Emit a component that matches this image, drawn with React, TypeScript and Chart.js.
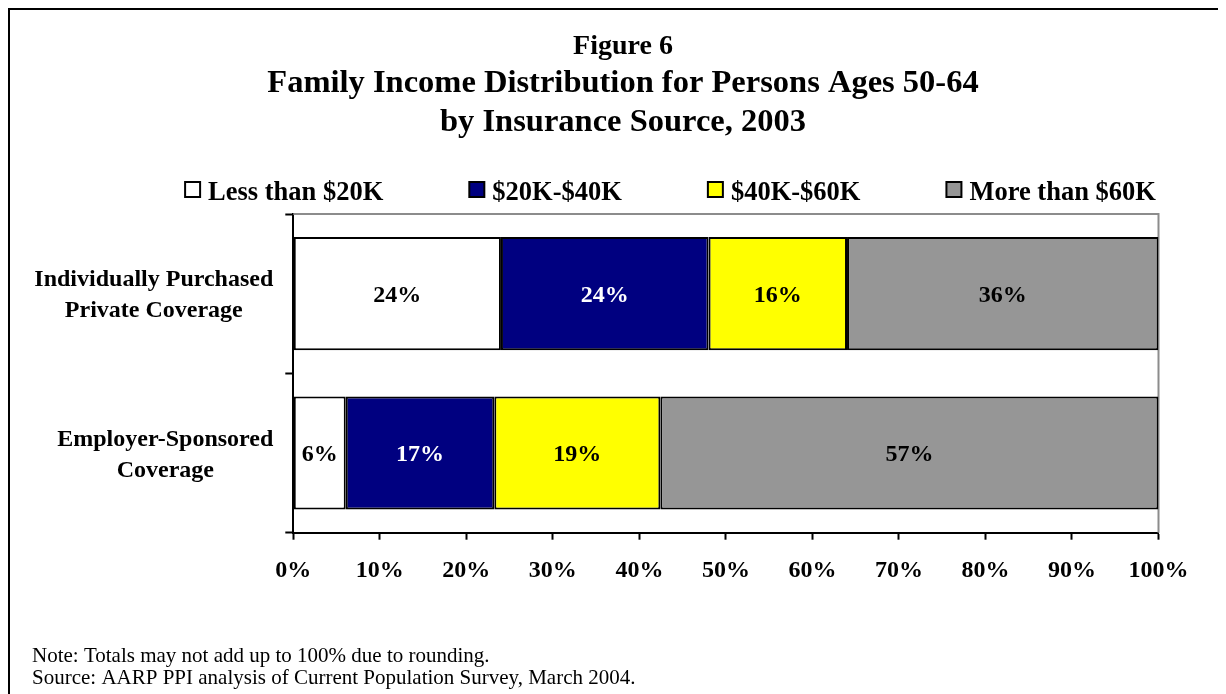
import React, { useEffect, useRef } from "react";
import { Chart, registerables } from "chart.js";

Chart.register(...registerables);

// ---------- data ----------
const categories: string[][] = [
  ["Individually Purchased", "Private Coverage"],
  ["Employer-Sponsored", "Coverage"],
];
const seriesNames = ["Less than $20K", "$20K-$40K", "$40K-$60K", "More than $60K"];
const lessThan20K = [24, 6];
const from20Kto40K = [24, 17];
const from40Kto60K = [16, 19];
const moreThan60K = [36, 57];
const xTickValues = [0, 10, 20, 30, 40, 50, 60, 70, 80, 90, 100];

const figureLabel = "Figure 6";
const titleLines = [
  "Family Income Distribution for Persons Ages 50-64",
  "by Insurance Source, 2003",
];
const noteLines = [
  "Note: Totals may not add up to 100% due to rounding.",
  "Source: AARP PPI analysis of Current Population Survey, March 2004.",
];

// ---------- styles ----------
const FONT = "'Liberation Serif', 'Times New Roman', Times, serif";
const seriesColors = ["#FFFFFF", "#000080", "#FFFF00", "#969696"];
const labelColors = ["#000000", "#FFFFFF", "#000000", "#000000"];

const CANVAS_W = 1216;
const CANVAS_H = 684;

const rawSeries = [lessThan20K, from20Kto40K, from40Kto60K, moreThan60K];
// 100% stacked: each category normalised by its total
const totals = categories.map((_, i) => rawSeries.reduce((s, arr) => s + arr[i], 0));
const shareSeries = rawSeries.map((arr) => arr.map((v, i) => (v / totals[i]) * 100));

const decorPlugin = {
  id: "decor",
  beforeDatasetsDraw(chart: any) {
    const { ctx, chartArea: a } = chart;
    ctx.save();
    ctx.strokeStyle = "#8c8c8c";
    ctx.lineWidth = 2;
    ctx.beginPath();
    ctx.moveTo(a.left, a.top);
    ctx.lineTo(a.right, a.top);
    ctx.lineTo(a.right, a.bottom);
    ctx.stroke();
    ctx.restore();
  },
  afterDatasetsDraw(chart: any) {
    const { ctx } = chart;
    ctx.save();
    ctx.font = `bold 24px ${FONT}`;
    ctx.textAlign = "center";
    ctx.textBaseline = "alphabetic";
    chart.data.datasets.forEach((ds: any, di: number) => {
      const meta = chart.getDatasetMeta(di);
      meta.data.forEach((el: any, i: number) => {
        const cx = (el.x + el.base) / 2;
        ctx.fillStyle = labelColors[di];
        ctx.fillText(`${rawSeries[di][i]}%`, cx, el.y + 8);
      });
    });
    ctx.restore();
  },
  afterDraw(chart: any) {
    const { ctx, chartArea: a } = chart;
    ctx.save();
    ctx.fillStyle = "#000";
    // title
    ctx.textAlign = "center";
    ctx.textBaseline = "alphabetic";
    const tcx = 613;
    ctx.font = `bold 28px ${FONT}`;
    ctx.fillText(figureLabel, tcx, 44);
    ctx.font = `bold 32.5px ${FONT}`;
    ctx.fillText(titleLines[0], tcx, 82);
    ctx.fillText(titleLines[1], tcx, 121);

    // legend
    ctx.font = `bold 26.5px ${FONT}`;
    ctx.textAlign = "left";
    const box = 17;
    const boxGap = 24;
    const gap = 85;
    const widths = seriesNames.map((n) => boxGap + ctx.measureText(n).width);
    const total = widths.reduce((s, w) => s + w, 0) + gap * (seriesNames.length - 1);
    let x = 660 - total / 2;
    const boxTop = 171;
    seriesNames.forEach((n, i) => {
      ctx.fillStyle = seriesColors[i];
      ctx.fillRect(x + 1, boxTop + 1, box - 2, box - 2);
      ctx.strokeStyle = "#000";
      ctx.lineWidth = 2;
      ctx.strokeRect(x + 1, boxTop + 1, box - 2, box - 2);
      ctx.fillStyle = "#000";
      ctx.fillText(n, x + boxGap, 190);
      x += widths[i] + gap;
    });

    // category labels
    ctx.font = `bold 24px ${FONT}`;
    ctx.textAlign = "center";
    const yScale = chart.scales.y;
    const right = a.left - 20;
    categories.forEach((lines, i) => {
      const cy = yScale.getPixelForValue(i);
      const widest = Math.max(...lines.map((l) => ctx.measureText(l).width));
      const cx = right - widest / 2;
      lines.forEach((l, li) => {
        ctx.fillText(l, cx, cy + 8 + (li - (lines.length - 1) / 2) * 31);
      });
    });

    // notes
    ctx.font = `21px ${FONT}`;
    ctx.textAlign = "left";
    noteLines.forEach((l, i) => ctx.fillText(l, 22, 652 + i * 22));
    ctx.restore();
  },
};

export default function App() {
  const ref = useRef<HTMLCanvasElement | null>(null);

  useEffect(() => {
    if (!ref.current) return;
    const chart = new Chart(ref.current, {
      type: "bar",
      data: {
        labels: categories.map((c) => c.join(" ")),
        datasets: seriesNames.map((name, i) => ({
          label: name,
          data: shareSeries[i],
          backgroundColor: seriesColors[i],
          borderColor: "#000000",
          borderWidth: 2,
          borderSkipped: false,
          categoryPercentage: 1,
          barPercentage: 0.71,
        })),
      },
      options: {
        indexAxis: "y",
        animation: false,
        responsive: false,
        devicePixelRatio: 1,
        layout: { padding: { top: 204, right: 67.5, bottom: 101.3, left: 0 } },
        plugins: {
          legend: { display: false },
          title: { display: false },
          tooltip: { enabled: false },
        },
        scales: {
          x: {
            stacked: true,
            min: 0,
            max: 100,
            afterBuildTicks: (scale: any) => {
              scale.ticks = xTickValues.map((v) => ({ value: v }));
            },
            afterFit: (scale: any) => {
              scale.height = 60;
            },
            ticks: {
              callback: (v: any) => `${v}%`,
              color: "#000",
              font: { family: FONT, size: 24, weight: "bold" },
              padding: 17,
              maxRotation: 0,
              autoSkip: false,
            },
            grid: {
              drawOnChartArea: false,
              drawTicks: true,
              tickLength: 7,
              tickColor: "#000",
              tickWidth: 2,
            },
            border: { display: true, color: "#000", width: 2 },
          },
          y: {
            stacked: true,
            afterFit: (scale: any) => {
              scale.width = 283.3;
            },
            ticks: { display: false },
            grid: {
              offset: true,
              drawOnChartArea: false,
              drawTicks: true,
              tickLength: 8,
              tickColor: "#000",
              tickWidth: 2,
            },
            border: { display: true, color: "#000", width: 2 },
          },
        },
      },
      plugins: [decorPlugin],
    } as any);
    return () => chart.destroy();
  }, []);

  return (
    <div
      style={{
        position: "relative",
        width: 1218,
        height: 686,
        boxSizing: "border-box",
        borderLeft: "2px solid #000",
        borderTop: "2px solid #000",
        background: "#fff",
        overflow: "hidden",
      }}
    >
      <style>{"html,body{overflow:hidden;background:#fff}"}</style>
      <canvas ref={ref} width={CANVAS_W} height={CANVAS_H} style={{ display: "block" }} />
    </div>
  );
}
